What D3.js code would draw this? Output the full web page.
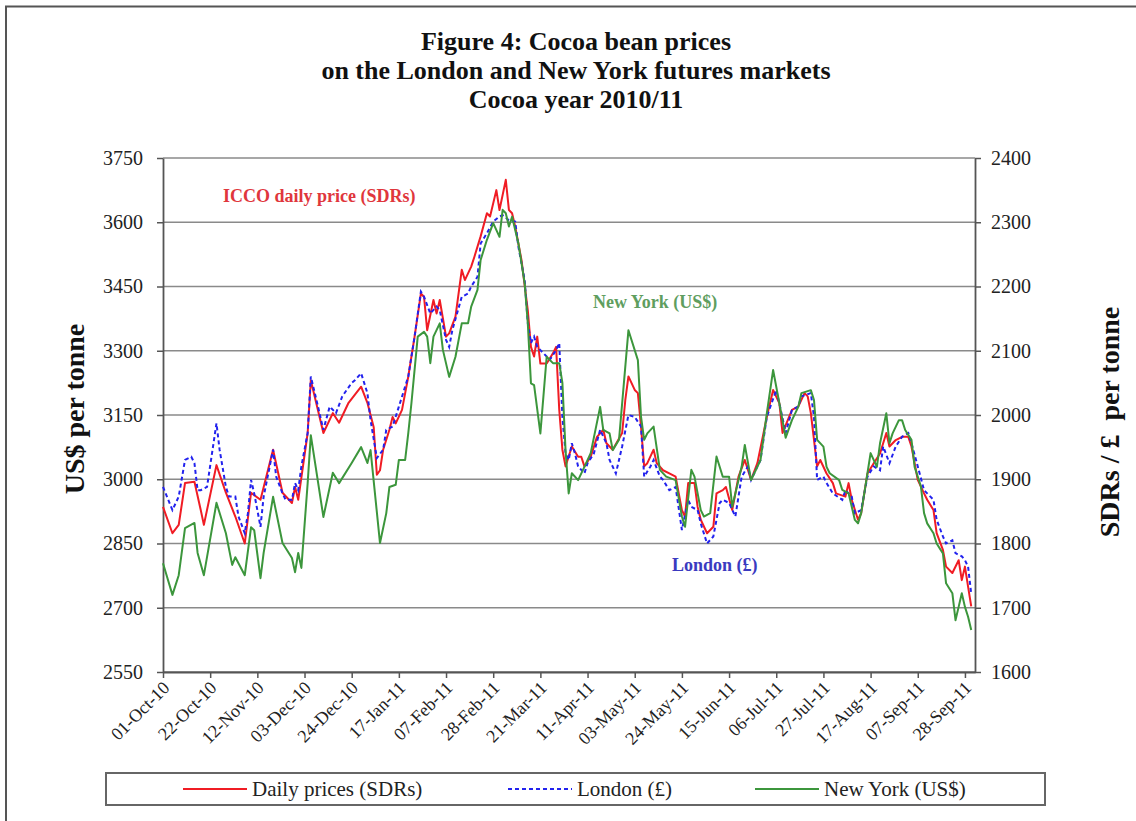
<!DOCTYPE html>
<html>
<head>
<meta charset="utf-8">
<script src="https://cdnjs.cloudflare.com/ajax/libs/d3/7.8.5/d3.min.js"></script>
<style>
  body { margin: 0; background: #fff; }
  svg { display: block; font-family: "Liberation Serif", "Times New Roman", serif; }
</style>
</head>
<body>
<svg id="chart" width="1136" height="821"></svg>
<script>
// chart text
const titleLines = [
  "Figure 4: Cocoa bean prices",
  "on the London and New York futures markets",
  "Cocoa year 2010/11"
];
const leftTitle = "US$ per tonne";
const rightTitle = "SDRs / \u00a3  per tonne";
const seriesNames = ["Daily prices (SDRs)", "London (\u00a3)", "New York (US$)"];
const labelNames = ["ICCO daily price (SDRs)", "London (\u00a3)", "New York (US$)"];

// x axis: trading days since 01-Oct-10, one label every 15 trading days
const tickLabels = ["01-Oct-10", "22-Oct-10", "12-Nov-10", "03-Dec-10", "24-Dec-10", "17-Jan-11",
  "07-Feb-11", "28-Feb-11", "21-Mar-11", "11-Apr-11", "03-May-11", "24-May-11", "15-Jun-11",
  "06-Jul-11", "27-Jul-11", "17-Aug-11", "07-Sep-11", "28-Sep-11"];
const tickDays = tickLabels.map((d, i) => i * 15);
const lastDay = 258.2;

const leftTicks = [2550, 2700, 2850, 3000, 3150, 3300, 3450, 3600, 3750];
const rightTicks = [1600, 1700, 1800, 1900, 2000, 2100, 2200, 2300, 2400];

// [trading day, price] — SDRs per tonne (right axis)
const sdrPrices = [[0,1857],[3,1816],[5,1829],[7,1894],[10,1896],[12,1852],[13,1829],[17,1922],[20,1879],
  [23,1842],[26,1800],[28,1879],[31,1868],[35,1946],[38,1879],[41,1863],[42,1888],[43,1868],[46,1972],
  [47,2054],[51,1972],[54,2003],[56,1988],[59,2019],[63,2044],[65,2019],[67,1981],[68,1907],[69,1914],
  [70,1946],[72,1977],[73,1997],[74,1987],[76,2008],[78,2060],[80,2122],[82,2189],[83,2184],[84,2132],
  [86,2179],[87,2158],[88,2179],[90,2122],[91,2127],[93,2153],[95,2226],[96,2210],[98,2231],[99,2246],
  [101,2278],[103,2314],[104,2309],[106,2350],[107,2319],[109,2366],[110,2319],[111,2314],[112,2293],
  [114,2241],[116,2163],[117,2106],[118,2091],[119,2122],[120,2080],[122,2080],[124,2096],[125,2106],
  [126,2008],[127,1946],[128,1920],[130,1951],[132,1935],[133,1935],[134,1920],[136,1935],[138,1966],
  [140,1977],[141,1956],[143,1946],[146,1972],[147,2023],[148,2060],[150,2039],[151,2034],[152,1982],
  [153,1920],[154,1925],[156,1946],[157,1925],[159,1914],[161,1909],[163,1904],[165,1852],[166,1842],
  [167,1894],[169,1894],[170,1857],[171,1837],[173,1816],[175,1826],[176,1878],[178,1883],[179,1888],
  [181,1852],[183,1904],[185,1930],[187,1899],[189,1925],[192,1997],[194,2039],[196,2018],[197,1972],
  [200,2008],[202,2013],[204,2034],[205,2029],[206,2003],[208,1920],[209,1930],[211,1909],[213,1894],
  [214,1878],[217,1873],[218,1894],[219,1868],[221,1837],[222,1847],[224,1909],[226,1925],[228,1940],
  [230,1972],[231,1951],[233,1961],[235,1966],[237,1966],[238,1951],[240,1899],[242,1878],[243,1868],
  [245,1852],[246,1816],[248,1790],[249,1764],[251,1754],[253,1774],[254,1743],[255,1764],[256,1733],
  [257,1702]];

// [trading day, price] — London, £ per tonne (right axis)
const londonPrices = [[0,1888],[3,1852],[5,1873],[7,1930],[9,1935],[10,1925],[11,1883],[12,1883],[14,1888],
  [17,1987],[18,1946],[20,1888],[21,1873],[23,1873],[24,1842],[26,1816],[27,1847],[28,1899],[29,1878],
  [31,1826],[32,1873],[35,1946],[36,1904],[38,1878],[39,1868],[41,1868],[42,1894],[43,1883],[44,1920],
  [46,1972],[47,2060],[49,2019],[51,1977],[53,2013],[55,2003],[57,2029],[60,2050],[61,2054],[63,2065],
  [65,2034],[66,1992],[68,1933],[70,1946],[71,1977],[73,1982],[75,2013],[78,2060],[80,2122],[82,2192],
  [83,2184],[85,2158],[87,2169],[88,2163],[90,2117],[91,2106],[92,2132],[95,2184],[97,2189],[98,2200],
  [100,2215],[101,2267],[103,2283],[105,2301],[107,2309],[108,2311],[110,2303],[112,2301],[113,2262],
  [115,2210],[116,2143],[117,2112],[118,2122],[119,2106],[122,2091],[123,2086],[125,2101],[126,2112],
  [127,1997],[128,1940],[129,1930],[130,1956],[131,1940],[132,1920],[134,1909],[135,1925],[137,1940],
  [139,1977],[141,1956],[142,1930],[144,1909],[146,1951],[148,2000],[150,1997],[152,1982],[153,1904],
  [155,1920],[156,1930],[158,1904],[159,1899],[161,1883],[163,1888],[165,1821],[167,1868],[168,1857],
  [170,1852],[171,1831],[173,1800],[175,1811],[177,1863],[178,1868],[180,1863],[182,1842],[184,1904],
  [186,1920],[187,1899],[190,1930],[192,1997],[195,2039],[196,2018],[198,1972],[200,2008],[202,2013],
  [203,2029],[206,2034],[207,1997],[208,1899],[210,1904],[211,1894],[213,1878],[216,1868],[217,1883],
  [219,1873],[220,1847],[222,1852],[224,1904],[226,1920],[228,1914],[229,1951],[231,1925],[233,1951],
  [235,1966],[237,1972],[238,1956],[240,1920],[242,1883],[243,1878],[245,1868],[246,1837],[248,1811],
  [249,1800],[251,1805],[252,1785],[254,1780],[255,1774],[256,1764],[257,1722]];

// [trading day, price] — New York, US$ per tonne (left axis)
const newYorkPrices = [[0,2804],[3,2730],[5,2776],[7,2886],[10,2898],[11,2828],[13,2776],[17,2945],[20,2874],
  [22,2800],[23,2818],[26,2776],[28,2888],[29,2881],[31,2769],[32,2828],[35,2959],[38,2851],[41,2816],
  [42,2783],[43,2828],[44,2793],[46,2991],[47,3103],[51,2912],[54,3015],[56,2991],[60,3038],[63,3075],
  [65,3038],[66,3068],[69,2851],[71,2921],[72,2982],[74,2987],[75,3045],[77,3045],[78,3108],[79,3178],
  [81,3333],[83,3344],[84,3333],[85,3271],[86,3333],[88,3364],[89,3302],[91,3239],[93,3286],[95,3364],
  [97,3364],[98,3403],[100,3442],[101,3512],[103,3559],[105,3598],[107,3566],[108,3629],[109,3621],
  [110,3590],[111,3613],[113,3551],[115,3458],[116,3364],[117,3224],[118,3220],[120,3107],[122,3286],
  [124,3271],[126,3271],[127,3225],[128,3068],[129,2967],[130,3014],[132,2998],[134,3029],[136,3061],
  [139,3169],[140,3115],[142,3107],[143,3068],[145,3092],[148,3348],[151,3278],[152,3146],[153,3092],
  [154,3107],[156,3123],[158,3022],[160,3006],[163,2998],[165,2913],[166,2889],[168,3022],[169,3006],
  [171,2928],[172,2913],[174,2921],[176,3053],[178,3006],[180,3006],[181,2936],[184,3029],[185,3080],
  [187,2998],[190,3045],[192,3154],[194,3255],[196,3177],[198,3097],[200,3138],[202,3169],[203,3201],
  [206,3208],[207,3185],[208,3092],[210,3076],[211,3029],[212,3014],[215,2998],[216,2975],[218,2967],
  [220,2905],[221,2897],[222,2921],[224,3014],[225,3061],[227,3029],[228,3084],[230,3154],[231,3084],
  [232,3107],[234,3138],[235,3138],[236,3115],[238,3092],[239,3029],[241,2983],[242,2921],[243,2897],
  [245,2874],[246,2850],[248,2827],[249,2757],[251,2734],[252,2671],[253,2702],[254,2734],[255,2702],
  [256,2679],[257,2648]];

const svg = d3.select("#chart");
const W = 1136, H = 821;
const plot = { left: 163, right: 975, top: 158, bottom: 672 };

const x = d3.scaleLinear().domain([0, lastDay]).range([plot.left, plot.right]);
const yLeft = d3.scaleLinear().domain([2550, 3750]).range([plot.bottom, plot.top]);
const yRight = d3.scaleLinear().domain([1600, 2400]).range([plot.bottom, plot.top]);

const colors = { sdr: "#f01c24", london: "#2222ee", ny: "#3c963c" };

svg.append("rect").attr("width", W).attr("height", H).attr("fill", "#fff");
// outer frame (continues past the window)
svg.append("rect")
  .attr("x", 6).attr("y", 6.5).attr("width", W + 20).attr("height", H + 20)
  .attr("fill", "none").attr("stroke", "#555").attr("stroke-width", 2);

// title
svg.append("g").selectAll("text").data(titleLines).join("text")
  .attr("x", 576).attr("y", (d, i) => 50 + i * 29)
  .attr("text-anchor", "middle")
  .style("font-size", "26px").style("font-weight", "bold").attr("fill", "#111")
  .text(d => d);

// grid
svg.append("g").selectAll("line").data(leftTicks).join("line")
  .attr("x1", plot.left).attr("x2", plot.right)
  .attr("y1", d => yLeft(d)).attr("y2", d => yLeft(d))
  .attr("stroke", "#8a8a8a").attr("stroke-width", 1.6);

// axes
const axisStyle = g => {
  g.attr("font-family", null).attr("font-size", null);
  g.select(".domain").attr("stroke", "#555").attr("stroke-width", 1.8);
  g.selectAll(".tick line").attr("stroke", "#555").attr("stroke-width", 1.5);
  g.selectAll(".tick text").attr("fill", "#222").style("font-size", "20px");
};

svg.append("g")
  .attr("transform", `translate(${plot.left},0)`)
  .call(d3.axisLeft(yLeft).tickValues(leftTicks).tickFormat(d3.format("d"))
    .tickSize(6).tickPadding(14).tickSizeOuter(0))
  .call(axisStyle);

svg.append("g")
  .attr("transform", `translate(${plot.right},0)`)
  .call(d3.axisRight(yRight).tickValues(rightTicks).tickFormat(d3.format("d"))
    .tickSize(6).tickPadding(10).tickSizeOuter(0))
  .call(axisStyle);

const xAxis = svg.append("g")
  .attr("transform", `translate(0,${plot.bottom})`)
  .call(d3.axisBottom(x).tickValues(tickDays).tickFormat((d, i) => tickLabels[i]).tickSize(6).tickSizeOuter(0))
  .call(axisStyle);
xAxis.selectAll(".tick text")
  .attr("x", 0).attr("y", 0).attr("dy", 0)
  .attr("transform", "translate(7,17) rotate(-45)")
  .style("text-anchor", "end").style("font-size", "18px");

// axis titles
svg.append("text")
  .attr("transform", "translate(84,409) rotate(-90)")
  .attr("text-anchor", "middle")
  .style("font-size", "28px").style("font-weight", "bold").attr("fill", "#111")
  .text(leftTitle);
svg.append("text")
  .attr("transform", "translate(1119,422) rotate(-90)")
  .attr("text-anchor", "middle")
  .style("font-size", "28px").style("font-weight", "bold").attr("fill", "#111")
  .style("white-space", "pre")
  .text(rightTitle);

// lines
const lineRight = d3.line().x(d => x(d[0])).y(d => yRight(d[1]));
const lineLeft = d3.line().x(d => x(d[0])).y(d => yLeft(d[1]));

svg.append("path").datum(sdrPrices)
  .attr("fill", "none").attr("stroke", colors.sdr).attr("stroke-width", 2)
  .attr("stroke-linejoin", "round").attr("d", lineRight);
svg.append("path").datum(londonPrices)
  .attr("fill", "none").attr("stroke", colors.london).attr("stroke-width", 2)
  .attr("stroke-dasharray", "4,3").attr("d", lineRight);
svg.append("path").datum(newYorkPrices)
  .attr("fill", "none").attr("stroke", colors.ny).attr("stroke-width", 2)
  .attr("stroke-linejoin", "round").attr("d", lineLeft);

// in-chart labels
const labelStyle = [
  { x: 223, y: 202, fill: "#e0363c" },
  { x: 672, y: 571, fill: "#3a3ac0" },
  { x: 593, y: 308, fill: "#5f9e5f" }
];
svg.append("g").selectAll("text").data(labelNames).join("text")
  .attr("x", (d, i) => labelStyle[i].x).attr("y", (d, i) => labelStyle[i].y)
  .attr("fill", (d, i) => labelStyle[i].fill)
  .style("font-size", "18px").style("font-weight", "bold")
  .text(d => d);

// legend
const legend = svg.append("g");
legend.append("rect")
  .attr("x", 106).attr("y", 773).attr("width", 939).attr("height", 32)
  .attr("fill", "#fff").attr("stroke", "#666").attr("stroke-width", 2);
const legendX = [183, 508, 755];
const legendStroke = [colors.sdr, colors.london, colors.ny];
const legendDash = [null, "4,3", null];
const items = legend.selectAll("g.item").data(seriesNames).join("g")
  .attr("class", "item")
  .attr("transform", (d, i) => `translate(${legendX[i]},789)`);
items.append("line")
  .attr("x1", 0).attr("x2", 64).attr("y1", 0).attr("y2", 0)
  .attr("stroke", (d, i) => legendStroke[i]).attr("stroke-width", 2)
  .attr("stroke-dasharray", (d, i) => legendDash[i]);
items.append("text")
  .attr("x", 69).attr("y", 7)
  .attr("fill", "#222").style("font-size", "21px")
  .text(d => d);
</script>
</body>
</html>
